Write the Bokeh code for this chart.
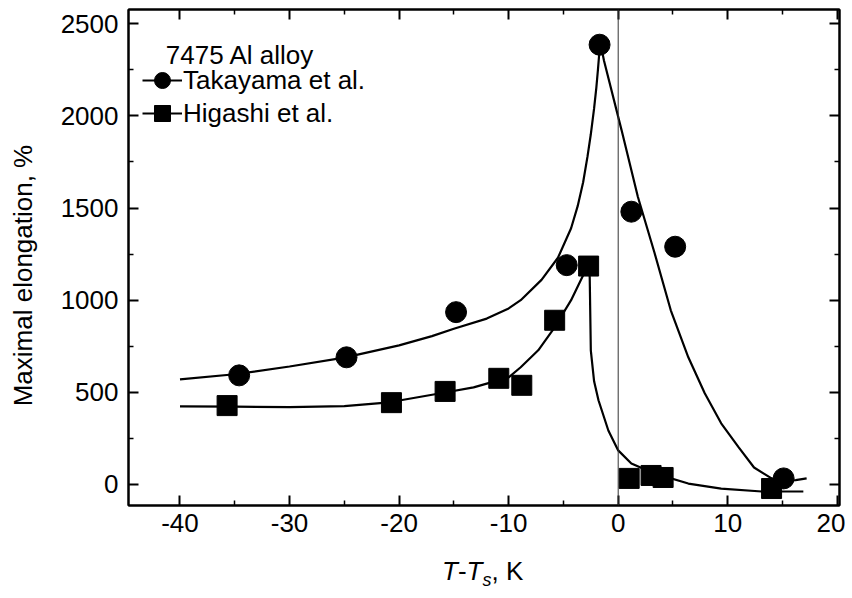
from bokeh.plotting import figure
from bokeh.layouts import column
from bokeh.models import (Range1d, FixedTicker, LinearAxis, Span, Label,
                          Legend, LegendItem, Div, CustomJSTickFormatter)
from bokeh.embed import file_html
from bokeh.resources import INLINE

# ---------------- data ----------------
# Measured points
tak_T = [-34.6, -24.8, -14.8, -4.7, -1.7, 1.2, 5.2, 15.1]
tak_y = [592, 690, 935, 1190, 2386, 1480, 1290, 33]

hig_T = [-35.7, -20.7, -15.8, -10.9, -8.8, -5.8, -2.7, 1.0, 3.0, 4.1, 14.0]
hig_y = [428, 444, 505, 576, 538, 891, 1185, 33, 49, 38, -22]

# Fitted curves
tak_fit_T = [-40, -35, -30, -25, -20, -17, -15, -12, -10, -8.9, -7, -5.5, -4.3,
             -3.7, -3.2, -2.8, -2.5, -2.2, -2.0, -1.85, -1.7, -1.6, -1.3, 0.3,
             1.8, 3.3, 4.8, 6.4, 7.9, 9.4, 11.0, 12.4, 14.0, 15.2, 16.2, 17.2]
tak_fit_y = [570, 598, 640, 688, 755, 805, 845, 900, 955, 1000, 1110, 1230, 1390,
             1510, 1640, 1780, 1900, 2040, 2150, 2250, 2360, 2390, 2300, 1924,
             1560, 1260, 945, 690, 495, 332, 201, 92, 33, 20, 24, 33]

hig_fit_T = [-40, -35, -30, -25, -20.9, -16.2, -13.2, -10.0, -8.9, -7.3, -5.8,
             -4.3, -3.1, -2.7, -2.6, -2.5, -2.2, -1.8, -0.9, 0, 1.2, 3.3, 6.4,
             9.4, 13.1, 16.9]
hig_fit_y = [424, 422, 420, 425, 446, 495, 527, 581, 636, 728, 853,
             1000, 1147, 1185, 1125, 728, 560, 457, 293, 185, 114, 60, 5,
             -22, -38, -38]

x_ticks = [-40, -30, -20, -10, 0, 10, 20]
x_tick_labels = ["-40", "-30", "-20", "-10", "0", "10", "20"]
x_minor = [-45, -35, -25, -15, -5, 5, 15]
y_ticks = [0, 500, 1000, 1500, 2000, 2500]
y_tick_labels = ["0", "500", "1000", "1500", "2000", "2500"]
y_minor = [-250, 250, 750, 1250, 1750, 2250]

FONT = "Liberation Sans"
FS = "26px"

p = figure(width=845, height=545, output_backend="svg", toolbar_location=None,
           x_range=Range1d(-44.7, 20.2), y_range=Range1d(-114, 2577),
           min_border_left=128, min_border_right=6, min_border_top=9,
           min_border_bottom=40)
p.xgrid.visible = False
p.ygrid.visible = False
p.outline_line_color = "black"
p.outline_line_width = 2
p.background_fill_color = "white"
p.border_fill_color = "white"


def style(ax, ticks, minor, labels=None):
    ax.ticker = FixedTicker(ticks=ticks, minor_ticks=minor)
    ax.axis_line_color = "black"
    ax.axis_line_width = 2
    ax.major_tick_in = 10
    ax.major_tick_out = 0
    ax.minor_tick_in = 5
    ax.minor_tick_out = 0
    ax.major_tick_line_width = 2
    ax.minor_tick_line_width = 1.5
    ax.major_tick_line_color = "black"
    ax.minor_tick_line_color = "black"
    if labels is not None:
        ax.major_label_overrides = {t: s for t, s in zip(ticks, labels)}
        ax.major_label_text_font = FONT
        ax.major_label_text_font_size = FS
        ax.major_label_text_color = "black"
    else:
        ax.formatter = CustomJSTickFormatter(code="return ''")
        ax.major_label_text_font_size = "1px"
        ax.major_label_standoff = 0


xa = p.xaxis[0]
ya = p.yaxis[0]
style(xa, x_ticks, x_minor, x_tick_labels)
style(ya, y_ticks, y_minor, y_tick_labels)
xa.major_label_standoff = 8
ya.major_label_standoff = 10
# trailing no-break spaces move the (centred) title a little down, as in the original
ya.axis_label = "Maximal elongation, %" + "\u00a0" * 5
ya.axis_label_text_font = FONT
ya.axis_label_text_font_size = FS
ya.axis_label_text_font_style = "normal"
ya.axis_label_text_color = "black"
ya.axis_label_standoff = 20

top = LinearAxis()
style(top, x_ticks, x_minor)
p.add_layout(top, "above")
right = LinearAxis()
style(right, y_ticks, y_minor)
p.add_layout(right, "right")

# vertical line at T - Ts = 0
p.add_layout(Span(location=0, dimension="height", line_color="#333333",
                  line_width=1))

tak_line = p.line(tak_fit_T, tak_fit_y, line_color="black", line_width=2.2)
hig_line = p.line(hig_fit_T, hig_fit_y, line_color="black", line_width=2.2)
tak_pts = p.scatter(tak_T, tak_y, marker="circle", size=21,
                    fill_color="black", line_color="black")
hig_pts = p.scatter(hig_T, hig_y, marker="square", size=20,
                    fill_color="black", line_color="black")


def make_legend(label, renderers, y_off):
    return Legend(items=[LegendItem(label=label, renderers=renderers)],
                  location=(14, y_off), orientation="vertical",
                  glyph_width=40, glyph_height=50, label_height=50, spacing=0,
                  padding=0, margin=0, border_line_color=None,
                  background_fill_alpha=0, label_standoff=1,
                  label_text_font=FONT, label_text_font_size=FS,
                  label_text_color="black")


p.add_layout(make_legend("Takayama et al.", [tak_line, tak_pts], 400))
p.add_layout(make_legend("Higashi et al.", [hig_line, hig_pts], 367))

p.add_layout(Label(x=-41.3, y=2331, text="7475 Al alloy", text_font=FONT,
                   text_font_size=FS, text_color="black",
                   text_baseline="alphabetic", text_align="left"))

# x axis title: T-T_s, K
xlabel = Div(
    text=('<div style="font-family:\'Liberation Sans\';font-size:26px;'
          'line-height:30px;padding-top:11px;padding-left:442px;'
          'white-space:nowrap;color:black">'
          '<i>T</i>-<i>T</i><sub style="font-size:18px;line-height:0">'
          '<i>s</i></sub>, K</div>'),
    width=845, height=53, margin=(0, 0, 0, 0))

layout = column(p, xlabel, spacing=0)
open("out.html", "w").write(file_html(layout, INLINE))
